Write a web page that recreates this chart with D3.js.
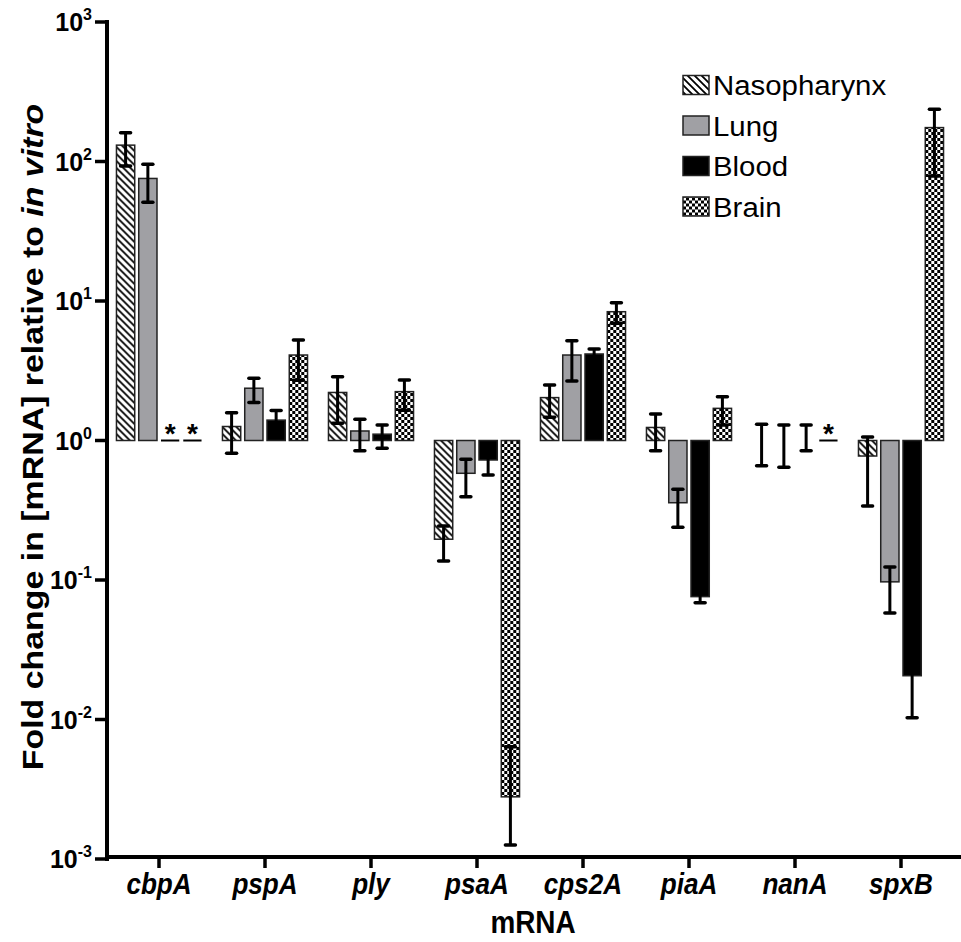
<!DOCTYPE html>
<html>
<head>
<meta charset="utf-8">
<style>
	body { margin: 0; background: #fff; }
	text { font-family: "Liberation Sans", Arial, sans-serif; }
</style>
<script src="https://cdn.jsdelivr.net/npm/d3@7"></script>
</head>
<body>
<svg width="961" height="942"></svg>
<script>
// chart data (fold change, log axis); null = not detected (*)
var genes = ["cbpA", "pspA", "ply", "psaA", "cps2A", "piaA", "nanA", "spxB"];
var tissues = ["Nasopharynx", "Lung", "Blood", "Brain"];

var naso   = [131, 1.26, 2.21, 0.196, 2.03, 1.24, 1.0, 0.774];
var nasoHi = [161, 1.58, 2.87, 0.244, 2.5, 1.55, 1.31, 1.06];
var nasoLo = [93, 0.81, 1.33, 0.137, 1.47, 0.845, 0.66, 0.339];

var lung   = [75.6, 2.37, 1.17, 0.582, 4.1, 0.358, 1.0, 0.097];
var lungHi = [95.5, 2.79, 1.42, 0.733, 5.19, 0.447, 1.29, 0.124];
var lungLo = [51, 1.87, 0.845, 0.395, 2.67, 0.239, 0.643, 0.058];

var blood   = [null, 1.40, 1.11, 0.725, 4.17, 0.076, 1.0, 0.0206];
var bloodHi = [null, 1.64, 1.29, 0.8, 4.53, 0.082, 1.29, 0.024];
var bloodLo = [null, 1.18, 0.88, 0.566, 3.8, 0.0687, 0.845, 0.0103];

var brain   = [null, 4.1, 2.24, 0.00279, 8.38, 1.70, null, 175];
var brainHi = [null, 5.25, 2.72, 0.00638, 9.72, 2.06, null, 237];
var brainLo = [null, 2.7, 1.65, 0.00126, 6.92, 1.29, null, 78.7];

var yTicks = [1e-3, 1e-2, 1e-1, 1e0, 1e1, 1e2, 1e3];

var series = [
	{key: "Nasopharynx", v: naso, hi: nasoHi, lo: nasoLo},
	{key: "Lung", v: lung, hi: lungHi, lo: lungLo},
	{key: "Blood", v: blood, hi: bloodHi, lo: bloodLo},
	{key: "Brain", v: brain, hi: brainHi, lo: brainLo}
];

var rows = [];
genes.forEach(function(g, i) {
	series.forEach(function(s) {
		rows.push({gene: g, tissue: s.key, v: s.v[i], hi: s.hi[i], lo: s.lo[i]});
	});
});

var svg = d3.select("svg");

var defs = svg.append("defs");
var hatch = defs.append("pattern")
	.attr("id", "hatch").attr("patternUnits", "userSpaceOnUse")
	.attr("width", 7).attr("height", 7);
hatch.append("rect").attr("width", 7).attr("height", 7).attr("fill", "#fff");
hatch.append("path")
	.attr("d", "M-1,-1 L8,8 M-1,6 L1,8 M6,-1 L8,1")
	.attr("stroke", "#000").attr("stroke-width", 1.8);

var checker = defs.append("pattern")
	.attr("id", "checker").attr("patternUnits", "userSpaceOnUse")
	.attr("width", 6).attr("height", 6);
checker.append("rect").attr("width", 6).attr("height", 6).attr("fill", "#fff");
checker.append("rect").attr("width", 3).attr("height", 3).attr("fill", "#000");
checker.append("rect").attr("x", 3).attr("y", 3).attr("width", 3).attr("height", 3).attr("fill", "#000");

var fills = {Nasopharynx: "url(#hatch)", Lung: "#a0a0a4", Blood: "#000", Brain: "url(#checker)"};

var x0 = d3.scaleBand().domain(genes).range([106, 954]);
var x1 = d3.scaleBand().domain(tissues).range([0, x0.bandwidth()])
	.paddingInner(0.18).paddingOuter(0.47);
var y = d3.scaleLog().domain([1e-3, 1e3]).range([859, 22]);
var base = y(1);

// bars
var g = svg.append("g");
var barG = g.selectAll("g.bar").data(rows).enter().append("g")
	.attr("transform", function(d) { return "translate(" + (x0(d.gene) + x1(d.tissue)) + ",0)"; });

barG.filter(function(d) { return d.v != null; })
	.append("rect")
	.attr("y", function(d) { return Math.min(y(d.v), base); })
	.attr("height", function(d) { return Math.abs(y(d.v) - base); })
	.attr("width", x1.bandwidth())
	.attr("fill", function(d) { return fills[d.tissue]; })
	.attr("stroke", "#222").attr("stroke-width", 1.5);

// error bars
var bw = x1.bandwidth();
var eb = barG.filter(function(d) { return d.v != null; });
eb.append("line")
	.attr("x1", bw / 2).attr("x2", bw / 2)
	.attr("y1", function(d) { return y(d.hi); })
	.attr("y2", function(d) { return y(d.lo); })
	.attr("stroke", "#000").attr("stroke-width", 3);
["hi", "lo"].forEach(function(k) {
	eb.append("line")
		.attr("x1", bw / 2 - 5).attr("x2", bw / 2 + 5)
		.attr("y1", function(d) { return y(d[k]); })
		.attr("y2", function(d) { return y(d[k]); })
		.attr("stroke", "#000").attr("stroke-width", 3.5)
		.attr("stroke-linecap", "round");
});

// not detected
var nd = barG.filter(function(d) { return d.v == null; });
nd.append("line")
	.attr("x1", 0).attr("x2", bw)
	.attr("y1", base).attr("y2", base)
	.attr("stroke", "#000").attr("stroke-width", 2);
nd.append("text")
	.attr("x", bw / 2).attr("y", base + 2)
	.attr("text-anchor", "middle")
	.attr("font-size", 28).attr("font-weight", "bold")
	.text("*");

// y axis
var yAxis = svg.append("g");
yAxis.append("line")
	.attr("x1", 107).attr("x2", 107).attr("y1", y(1e3) - 2).attr("y2", y(1e-3) + 2)
	.attr("stroke", "#000").attr("stroke-width", 4);
var yt = yAxis.selectAll("g.tick").data(yTicks).enter().append("g")
	.attr("transform", function(d) { return "translate(0," + y(d) + ")"; });
yt.append("line").attr("x1", 95).attr("x2", 107)
	.attr("stroke", "#000").attr("stroke-width", 3.5);
var ytx = yt.append("text")
	.attr("x", 92).attr("y", 9)
	.attr("text-anchor", "end")
	.attr("font-size", 25).attr("font-weight", "bold");
ytx.append("tspan").text("10");
ytx.append("tspan")
	.attr("dy", -11).attr("font-size", 16)
	.text(function(d) { return Math.round(Math.log10(d)); });

// x axis
var xAxis = svg.append("g");
xAxis.append("line")
	.attr("x1", 105).attr("x2", 961).attr("y1", 857).attr("y2", 857)
	.attr("stroke", "#000").attr("stroke-width", 4);
var xt = xAxis.selectAll("g.tick").data(genes).enter().append("g")
	.attr("transform", function(d) { return "translate(" + (x0(d) + x0.bandwidth() / 2) + ",0)"; });
xt.append("line").attr("y1", 857).attr("y2", 868)
	.attr("stroke", "#000").attr("stroke-width", 3.5);
xt.append("text")
	.attr("transform", "translate(0,894) scale(0.87,1)")
	.attr("text-anchor", "middle")
	.attr("font-size", 30).attr("font-weight", "bold").attr("font-style", "italic")
	.text(function(d) { return d; });

svg.append("text")
	.attr("transform", "translate(533,933) scale(0.9,1)")
	.attr("text-anchor", "middle")
	.attr("font-size", 31).attr("font-weight", "bold")
	.text("mRNA");

var yTitle = svg.append("text")
	.attr("transform", "translate(43,437) rotate(-90) scale(1.13,1)")
	.attr("text-anchor", "middle")
	.attr("font-size", 30).attr("font-weight", "bold");
yTitle.append("tspan").text("Fold change in [mRNA] relative to ");
yTitle.append("tspan").attr("font-style", "italic").text("in vitro");

// legend
var leg = svg.append("g").selectAll("g").data(tissues).enter().append("g")
	.attr("transform", function(d, i) { return "translate(683," + (85 + i * 40.5) + ")"; });
leg.append("rect")
	.attr("y", -9.5).attr("width", 26).attr("height", 19)
	.attr("fill", function(d) { return fills[d]; })
	.attr("stroke", "#222").attr("stroke-width", 1.5);
leg.append("text")
	.attr("transform", "translate(30,10) scale(1.05,1)")
	.attr("font-size", 28)
	.text(function(d) { return d; });
</script>
</body>
</html>
